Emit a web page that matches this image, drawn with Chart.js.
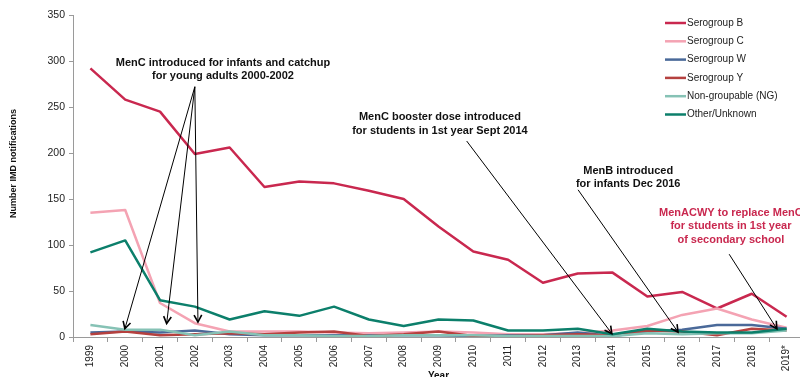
<!DOCTYPE html>
<html>
<head>
<meta charset="utf-8">
<script src="https://cdn.jsdelivr.net/npm/chart.js@4"></script>
<style>
  html, body { margin: 0; padding: 0; overflow: hidden; background: #fff; }
  #wrap { width: 804px; height: 382px; }
</style>
</head>
<body>
<div id="wrap"><canvas id="imdChart"></canvas></div>
<script>
const years = ['1999', '2000', '2001', '2002', '2003', '2004', '2005', '2006', '2007', '2008',
  '2009', '2010', '2011', '2012', '2013', '2014', '2015', '2016', '2017', '2018', '2019*'];

const serogroupB = [292, 258, 245, 199, 206, 163, 169, 167, 159, 150, 120, 93, 84, 59, 69, 70, 44, 49, 31, 47, 22];
const serogroupC = [135, 138, 37, 15, 6, 6, 6, 5, 4, 5, 6, 5, 3, 3, 4, 7, 12, 24, 31, 19, 10];
const serogroupW = [5, 6, 5, 7, 3, 2, 2, 2, 2, 2, 2, 1, 2, 2, 5, 1, 6, 8, 13, 13, 9];
const serogroupY = [3, 6, 2, 3, 4, 3, 5, 6, 1, 3, 6, 1, 1, 2, 3, 2, 7, 6, 2, 9, 7];
const nonGroupable = [13, 8, 8, 2, 6, 2, 2, 1, 1, 2, 2, 2, 1, 1, 1, 1, 4, 3, 4, 4, 7];
const otherUnknown = [92, 105, 40, 33, 19, 28, 23, 33, 19, 12, 19, 18, 7, 7, 9, 3, 9, 6, 5, 5, 9];

const seriesNames = ['Serogroup B', 'Serogroup C', 'Serogroup W', 'Serogroup Y', 'Non-groupable (NG)', 'Other/Unknown'];
const seriesValues = [serogroupB, serogroupC, serogroupW, serogroupY, nonGroupable, otherUnknown];
const seriesColors = ['#C9284F', '#F4A3B3', '#4A6999', '#B5413F', '#86C2B5', '#0C7F6B'];

const FONT = '"Liberation Sans", Arial, sans-serif';

// callouts, anchored in data units (x = category index, y = notifications)
const notes = [
  { lines: ['MenC introduced for infants and catchup', 'for young adults 2000-2002'], color: '#111',
    at: [3.81, 298], from: [3.0, 272], to: [[0.99, 9], [2.19, 14.6], [3.09, 16.3]] },
  { lines: ['MenC booster dose introduced', 'for students in 1st year Sept 2014'], color: '#111',
    at: [10.04, 239], from: [10.81, 213], to: [[14.98, 3.7]] },
  { lines: ['MenB introduced', 'for infants Dec 2016'], color: '#111',
    at: [15.45, 181], from: [14.01, 160], to: [[16.88, 5.4]] },
  { lines: ['MenACWY to replace MenC', 'for students in 1st year', 'of secondary school'], color: '#C9284F',
    at: [18.4, 135], from: [18.35, 90], to: [[19.72, 9]] }
];

const notesPlugin = {
  id: 'notes',
  afterDatasetsDraw(chart) {
    const { ctx, scales: { x, y } } = chart;
    ctx.save();
    notes.forEach(n => {
      const fx = x.getPixelForValue(n.from[0]);
      const fy = y.getPixelForValue(n.from[1]);
      ctx.strokeStyle = '#000';
      n.to.forEach(t => {
        const tx = x.getPixelForValue(t[0]);
        const ty = y.getPixelForValue(t[1]);
        ctx.lineWidth = 1;
        ctx.beginPath();
        ctx.moveTo(fx, fy);
        ctx.lineTo(tx, ty);
        ctx.stroke();
        const a = Math.atan2(ty - fy, tx - fx);
        ctx.lineWidth = 1.6;
        ctx.beginPath();
        ctx.moveTo(tx - 8 * Math.cos(a - 0.5), ty - 8 * Math.sin(a - 0.5));
        ctx.lineTo(tx, ty);
        ctx.lineTo(tx - 8 * Math.cos(a + 0.5), ty - 8 * Math.sin(a + 0.5));
        ctx.stroke();
      });
      ctx.fillStyle = n.color;
      ctx.font = 'bold 11px ' + FONT;
      ctx.textAlign = 'center';
      ctx.textBaseline = 'middle';
      const cx = x.getPixelForValue(n.at[0]);
      const cy = y.getPixelForValue(n.at[1]);
      n.lines.forEach((line, i) => ctx.fillText(line, cx, cy + i * 13.5));
    });
    ctx.restore();
  },
  afterDraw(chart) {
    // legend sits inside the plot, top right
    const { ctx } = chart;
    ctx.save();
    ctx.font = '10px ' + FONT;
    ctx.textBaseline = 'middle';
    ctx.textAlign = 'left';
    seriesNames.forEach((name, i) => {
      const ly = 23 + i * 18.3;
      ctx.strokeStyle = seriesColors[i];
      ctx.lineWidth = 2.5;
      ctx.beginPath();
      ctx.moveTo(665, ly);
      ctx.lineTo(686, ly);
      ctx.stroke();
      ctx.fillStyle = '#222';
      ctx.fillText(name, 687, ly);
    });
    ctx.restore();
  }
};

const ctx = document.getElementById('imdChart').getContext('2d');

new Chart(ctx, {
  type: 'line',
  data: {
    labels: years,
    datasets: seriesNames.map((name, i) => ({
      label: name,
      data: seriesValues[i],
      borderColor: seriesColors[i],
      backgroundColor: seriesColors[i],
      borderWidth: 2.5,
      pointRadius: 0,
      tension: 0,
      borderJoinStyle: 'round',
      order: seriesNames.length - i
    }))
  },
  options: {
    responsive: true,
    maintainAspectRatio: false,
    animation: false,
    layout: { padding: { top: 15, right: 0, left: 0, bottom: 0 } },
    plugins: {
      legend: { display: false },
      tooltip: { enabled: false }
    },
    scales: {
      x: {
        offset: true,
        afterFit(scale) { scale.height = 45; },
        grid: { drawOnChartArea: false, offset: true, tickLength: 5, color: '#9A9A9A' },
        border: { color: '#9A9A9A', width: 1 },
        ticks: {
          autoSkip: false, maxRotation: 90, minRotation: 90, padding: 3,
          color: '#222', font: { family: FONT, size: 10 }
        },
        title: {
          display: true, text: 'Year', color: '#111',
          font: { family: FONT, size: 10, weight: 'bold' }, padding: { top: 0, bottom: 0 }
        }
      },
      y: {
        min: 0,
        max: 350,
        afterFit(scale) { scale.width = 73; },
        grid: { drawOnChartArea: false, tickLength: 4, color: '#9A9A9A' },
        border: { color: '#9A9A9A', width: 1 },
        ticks: { stepSize: 50, padding: 4, color: '#222', font: { family: FONT, size: 10.5 } },
        title: {
          display: true, text: '          Number IMD notifications', color: '#111',
          font: { family: FONT, size: 9, weight: 'bold' }, padding: { top: 8, bottom: 0 }
        }
      }
    }
  },
  plugins: [notesPlugin]
});
</script>
</body>
</html>
